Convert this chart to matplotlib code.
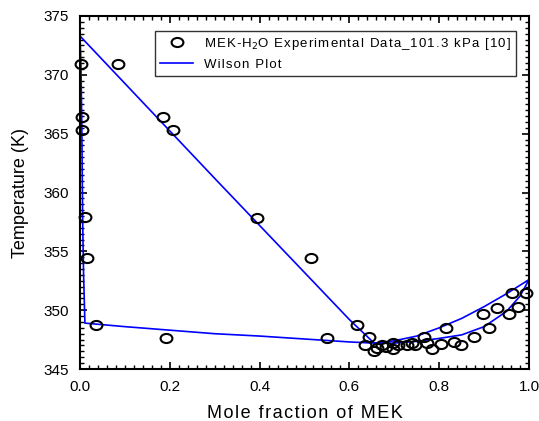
import matplotlib
matplotlib.use("Agg")
import matplotlib.pyplot as plt
from matplotlib.ticker import MultipleLocator, FormatStrFormatter
from matplotlib.path import Path
from matplotlib.transforms import Affine2D

plt.rcParams['font.family'] = ['Liberation Sans', 'DejaVu Sans']

# experimental data (liquid side and vapour side)
x_exp = [0.002, 0.005, 0.005, 0.012, 0.016, 0.036, 0.191,
         0.085, 0.184, 0.208, 0.394, 0.514, 0.616, 0.549,
         0.644, 0.635, 0.655, 0.662, 0.672, 0.681, 0.696, 0.698, 0.709,
         0.729, 0.739, 0.746, 0.766, 0.772, 0.785, 0.803, 0.814, 0.834,
         0.849, 0.878, 0.897, 0.911, 0.928, 0.956, 0.976, 0.963, 0.993]
T_exp = [370.9, 366.4, 365.3, 357.9, 354.4, 348.7, 347.6,
         370.9, 366.4, 365.3, 357.8, 354.4, 348.7, 347.6,
         347.7, 347.05, 346.5, 346.8, 347.05, 346.9, 347.2, 346.7, 347.05,
         347.0, 347.25, 347.05, 347.7, 347.25, 346.7, 347.1, 348.5, 347.3,
         347.0, 347.7, 349.65, 348.5, 350.2, 349.65, 350.25, 351.5, 351.5]

# Wilson model curves
x_liq = [0.0, 0.002, 0.004, 0.006, 0.008, 0.011, 0.1, 0.2, 0.3, 0.4, 0.5,
         0.6, 0.655, 0.7, 0.75, 0.8, 0.85, 0.9, 0.95, 0.98, 1.0]
T_liq = [373.3, 371.0, 366.0, 357.5, 353.0, 348.9, 348.6, 348.3, 348.0, 347.8,
         347.55, 347.3, 347.2, 347.2, 347.35, 347.6, 347.9, 348.6, 349.9, 351.2, 352.6]
x_vap = [0.0, 0.3, 0.5, 0.6, 0.655, 0.7, 0.75, 0.8, 0.85, 0.9, 0.95, 1.0]
T_vap = [373.3, 361.2, 353.2, 349.2, 347.2, 347.4, 347.8, 348.5, 349.3, 350.3, 351.4, 352.6]


def spaced(s):
    # wide letter spacing like the original
    out = ''
    inmath = False
    for i, c in enumerate(s):
        out += c
        if c == '$':
            inmath = not inmath
        if not inmath and i < len(s) - 1 and c != '$' and s[i + 1] != '$':
            out += '\u200a'
    return out


ellipse = Path.unit_circle().transformed(Affine2D().scale(1.3, 1.0))

fig = plt.figure(figsize=(5.39, 4.21), dpi=100)
ax = fig.add_axes([0.1484, 0.1235, 0.8331, 0.8385])

ax.plot(x_exp, T_exp, linestyle='none', marker=ellipse, mfc='none', mec='k',
        ms=8.5, mew=1.5, clip_on=False, zorder=3,
        label=spaced('MEK-H$_2$O Experimental Data_101.3 kPa [10]'))
ax.plot(x_liq, T_liq, color='#0000ff', lw=1.2, label=spaced('Wilson Plot'))
ax.plot(x_vap, T_vap, color='#0000ff', lw=1.2)

ax.set_xlim(0, 1)
ax.set_ylim(345, 375)
ax.xaxis.set_major_locator(MultipleLocator(0.2))
ax.xaxis.set_minor_locator(MultipleLocator(0.02))
ax.yaxis.set_major_locator(MultipleLocator(5))
ax.yaxis.set_minor_locator(MultipleLocator(0.5))
ax.xaxis.set_major_formatter(FormatStrFormatter('%.1f'))
ax.tick_params(which='both', direction='in', top=True, right=True, labelsize=11)
ax.tick_params(which='major', length=5, width=1.2, pad=8)
ax.tick_params(which='minor', length=3, width=1)
for s in ax.spines.values():
    s.set_linewidth(1.5)

ax.set_xlabel(spaced('Mole fraction of MEK'), fontsize=13, labelpad=8)
ax.set_ylabel('Temperature (K)', fontsize=13, labelpad=10)

leg = ax.legend(loc='upper right', bbox_to_anchor=(0.98, 0.97), fancybox=False,
                edgecolor='k', fontsize=9.5, borderaxespad=0.3, handlelength=2.5)
leg.get_frame().set_linewidth(1.0)

fig.savefig('out.png', dpi=100)
